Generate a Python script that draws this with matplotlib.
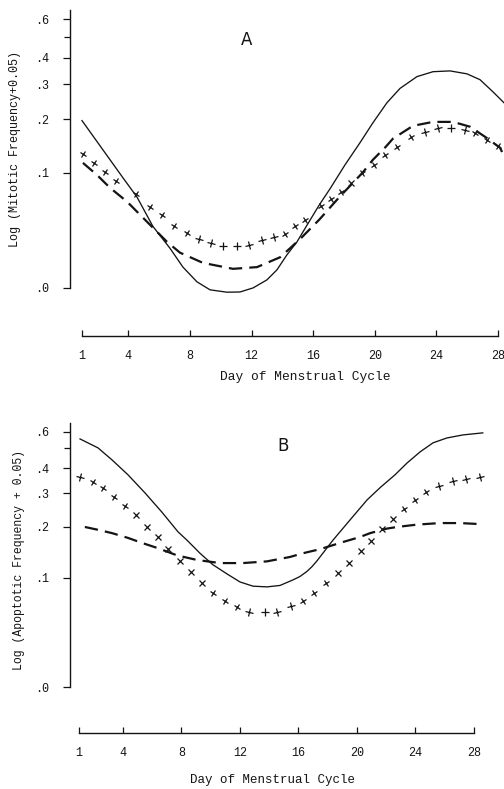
import numpy as np
import matplotlib
matplotlib.use("Agg")
import matplotlib.pyplot as plt
from matplotlib.markers import MarkerStyle
from matplotlib.transforms import Affine2D

# ---- panel A : mitotic frequency ----
a_solid_day = [1.0, 3.66, 4.57, 5.6, 6.71, 7.55, 8.46, 9.31, 10.41, 11.25, 12.1, 13.0,
               13.65, 14.3, 14.95, 15.6, 16.38, 17.1, 18.07, 19.04, 19.88, 20.79, 21.64,
               22.74, 23.78, 24.88, 25.98, 26.83, 27.67, 28.38]
a_solid_val = [0.197, 0.093, 0.069, 0.040, 0.023, 0.011, 0.003, -0.0009, -0.002, -0.0019,
               0.0, 0.004, 0.0094, 0.0186, 0.0276, 0.041, 0.060, 0.079, 0.112, 0.150,
               0.192, 0.243, 0.286, 0.326, 0.344, 0.347, 0.336, 0.315, 0.275, 0.243]

a_dash_day = [1.06, 1.97, 2.82, 3.92, 5.22, 6.52, 7.36, 8.85, 10.8, 12.36, 13.85, 14.5,
              15.3, 16.4, 17.7, 19.2, 19.88, 20.7, 21.18, 22.48, 23.78, 25.08, 26.18,
              27.28, 28.13, 28.4]
a_dash_val = [0.115, 0.097, 0.080, 0.064, 0.044, 0.0276, 0.020, 0.0135, 0.010, 0.011,
              0.017, 0.023, 0.0315, 0.046, 0.069, 0.100, 0.120, 0.142, 0.158, 0.185,
              0.194, 0.194, 0.183, 0.159, 0.1405, 0.125]

a_cross_day = [1.06, 1.78, 2.49, 3.21, 4.50, 5.41, 6.19, 6.97, 7.81, 8.59, 9.37, 10.15,
               11.06, 11.84, 12.68, 13.46, 14.17, 14.82, 15.47, 16.51, 17.16, 17.81,
               18.46, 19.17, 19.95, 20.66, 21.44, 22.35, 23.26, 24.10, 24.95, 25.85,
               26.50, 27.28, 28.0]
a_cross_val = [0.130, 0.115, 0.101, 0.089, 0.072, 0.058, 0.050, 0.040, 0.0345, 0.030,
               0.027, 0.0246, 0.0246, 0.025, 0.029, 0.0315, 0.034, 0.040, 0.046, 0.059,
               0.067, 0.075, 0.0865, 0.100, 0.112, 0.128, 0.142, 0.162, 0.172, 0.181,
               0.181, 0.176, 0.170, 0.156, 0.144]

# ---- panel B : apoptotic frequency ----
b_solid_day = [1.07, 2.3, 3.26, 4.35, 5.51, 6.67, 7.77, 8.38, 8.93, 9.27, 10.16, 11.12,
               12.0, 12.89, 13.85, 14.74, 15.63, 16.1, 16.58, 16.93, 17.27, 18.36, 19.52,
               20.69, 21.6, 22.6, 23.42, 24.31, 25.2, 26.15, 27.25, 28.6]
b_solid_val = [0.555, 0.503, 0.440, 0.372, 0.302, 0.240, 0.188, 0.169, 0.152, 0.142,
               0.121, 0.106, 0.094, 0.088, 0.087, 0.089, 0.097, 0.102, 0.110, 0.118,
               0.128, 0.169, 0.218, 0.278, 0.322, 0.372, 0.425, 0.481, 0.532, 0.561,
               0.580, 0.593]

b_dash_day = [1.4, 2.3, 3.26, 4.35, 5.31, 6.4, 7.70, 9.07, 10.64, 12.2, 13.85, 15.42,
              16.3, 17.47, 19.05, 20.2, 20.9, 22.05, 22.74, 24.1, 25.68, 27.04, 28.6]
b_dash_val = [0.200, 0.193, 0.185, 0.174, 0.163, 0.152, 0.138, 0.1295, 0.124, 0.124,
              0.127, 0.135, 0.142, 0.150, 0.165, 0.176, 0.185, 0.196, 0.200, 0.206,
              0.210, 0.210, 0.207]

b_cross_day = [1.07, 1.96, 2.64, 3.39, 4.14, 4.89, 5.65, 6.40, 7.08, 7.90, 8.65, 9.41,
               10.16, 10.98, 11.80, 12.62, 13.71, 14.53, 15.49, 16.31, 17.06, 17.88,
               18.70, 19.46, 20.28, 20.96, 21.71, 22.46, 23.21, 23.97, 24.72, 25.61,
               26.56, 27.45, 28.41]
b_cross_val = [0.363, 0.343, 0.320, 0.288, 0.258, 0.232, 0.200, 0.176, 0.150, 0.127,
               0.109, 0.092, 0.0785, 0.069, 0.062, 0.057, 0.056, 0.057, 0.063, 0.069,
               0.0785, 0.092, 0.107, 0.124, 0.146, 0.167, 0.195, 0.221, 0.249, 0.278,
               0.306, 0.328, 0.347, 0.355, 0.363]

day_ticks = [1, 4, 8, 12, 16, 20, 24, 28]
freq_ticks = [0.0, 0.1, 0.2, 0.3, 0.4, 0.6]
freq_labels = [".0", ".1", ".2", ".3", ".4", ".6"]

W, H = 504, 789
mono = "Liberation Mono"
ink = "#141414"

fig = plt.figure(figsize=(W / 100, H / 100), dpi=100)


def fwd(v):
    return np.log10(np.asarray(v, dtype=float) + 0.05)


def inv(v):
    return 10 ** np.asarray(v, dtype=float) - 0.05


def make_axes(left_px, top_px, bottom_px, xlim):
    ax = fig.add_axes([left_px / W, 1 - bottom_px / H, (W - left_px) / W,
                       (bottom_px - top_px) / H])
    ax.set_yscale("function", functions=(fwd, inv))
    ax.set_ylim(-0.0184, 0.66)
    ax.set_xlim(*xlim)
    for s in ["top", "right"]:
        ax.spines[s].set_visible(False)
    ax.spines["left"].set_bounds(0, 0.66)
    ax.spines["bottom"].set_bounds(1, 28)
    for s in ["left", "bottom"]:
        ax.spines[s].set_linewidth(1.0)
        ax.spines[s].set_color(ink)
    ax.set_yticks(freq_ticks)
    ax.set_yticklabels(freq_labels, fontfamily=mono, fontsize=8.5)
    ax.set_yticks([0.5], minor=True)
    ax.set_xticks(day_ticks)
    ax.set_xticklabels([str(d) for d in day_ticks], fontfamily=mono, fontsize=8.5)
    ax.tick_params(axis="y", which="both", direction="out", length=5, width=0.9,
                   pad=10, colors=ink)
    ax.tick_params(axis="y", which="minor", length=4)
    ax.tick_params(axis="x", direction="in", length=4, width=0.9, pad=10, colors=ink)
    ax.patch.set_visible(False)
    return ax


def draw_panel(ax, sd, sv, dd, dv, cd, cv):
    ax.plot(sd, sv, color=ink, lw=0.95, solid_joinstyle="round")
    ax.plot(dd, dv, color=ink, lw=1.6, dashes=(6, 3.2))
    # crosses turned along the curve, as in the typed original
    pts = ax.transData.transform(np.column_stack([cd, cv]))
    ang = np.degrees(np.arctan2(np.gradient(pts[:, 1]), np.gradient(pts[:, 0])))
    for x, y, a in zip(cd, cv, ang):
        m = MarkerStyle("+", transform=Affine2D().rotate_deg(a))
        ax.plot([x], [y], marker=m, ms=5.5, mew=0.9, color=ink, ls="none")


axA = make_axes(70, 10, 336, (1 - 12 / 15.41, 1 + 422 / 15.41))
draw_panel(axA, a_solid_day, a_solid_val, a_dash_day, a_dash_val, a_cross_day, a_cross_val)
axA.text(247 / W, 1 - 40 / H, "A", transform=fig.transFigure, fontsize=12,
         ha="center", va="center", color=ink)

axB = make_axes(70, 423, 733, (1 - 9 / 14.63, 1 + 425 / 14.63))
draw_panel(axB, b_solid_day, b_solid_val, b_dash_day, b_dash_val, b_cross_day, b_cross_val)
axB.text(283 / W, 1 - 446 / H, "B", transform=fig.transFigure, fontsize=12,
         ha="center", va="center", color=ink)

fig.text(305 / W, 1 - 377 / H, "Day of Menstrual Cycle", fontfamily=mono, fontsize=9.3,
         ha="center", va="center", color=ink)
fig.text(272 / W, 1 - 780 / H, "Day of Menstrual Cycle", fontfamily=mono, fontsize=9.0,
         ha="center", va="center", color=ink)
fig.text(15 / W, 1 - 149 / H, "Log (Mitotic Frequency+0.05)", fontfamily=mono,
         fontsize=8.5, rotation=90, ha="center", va="center", color=ink)
fig.text(19 / W, 1 - 560 / H, "Log (Apoptotic Frequency + 0.05)", fontfamily=mono,
         fontsize=8.3, rotation=90, ha="center", va="center", color=ink)

fig.savefig("out.png", dpi=100, facecolor="white")
